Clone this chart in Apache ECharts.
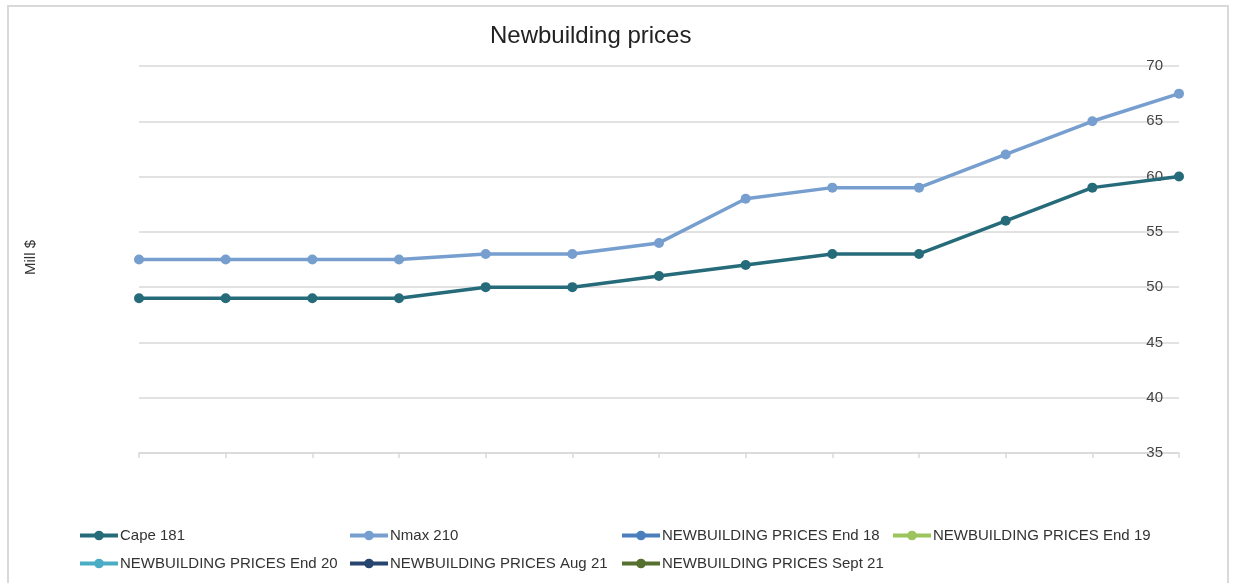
<!DOCTYPE html>
<html>
<head>
<meta charset="utf-8">
<script src="https://cdn.jsdelivr.net/npm/echarts@6/dist/echarts.min.js"></script>
<style>
    html, body { margin: 0; padding: 0; background: #fff; }
    #frame {
        position: absolute;
        left: 7px; top: 5px; width: 1222px; height: 590px;
        border: 2px solid #d9d9d9;
        box-sizing: border-box;
    }
    #chart { position: absolute; left: 0; top: 0; width: 1236px; height: 583px; }
</style>
</head>
<body>
<div id="frame"></div>
<div id="chart"></div>
<script>
// one point per period, no category labels shown on the chart
const periods = ["P1", "P2", "P3", "P4", "P5", "P6", "P7", "P8", "P9", "P10", "P11", "P12", "P13"];
const cape181 = [49, 49, 49, 49, 50, 50, 51, 52, 53, 53, 56, 59, 60];
const nmax210 = [52.5, 52.5, 52.5, 52.5, 53, 53, 54, 58, 59, 59, 62, 65, 67.5];

const seriesNames = [
    "Cape 181",
    "Nmax 210",
    "NEWBUILDING PRICES End 18",
    "NEWBUILDING PRICES End 19",
    "NEWBUILDING PRICES End 20",
    "NEWBUILDING PRICES Aug 21",
    "NEWBUILDING PRICES Sept 21",
];
const seriesColors = ["#266b7a", "#769ecf", "#4a7ebd", "#9bc45c", "#4bacc6", "#27456f", "#567030"];
const seriesValues = [cape181, nmax210, [], [], [], [], []];

const fontFamily = "'Liberation Sans', Arial, sans-serif";

function buildLegends() {
    const cols = [78, 348, 620, 891];
    const rows = [528, 556];
    return seriesNames.map((name, i) => ({
        data: [name],
        left: cols[i < 4 ? i : i - 4],
        top: rows[i < 4 ? 0 : 1],
        padding: 0,
        itemWidth: 38,
        itemHeight: 12,
        itemGap: 0,
        selectedMode: false,
        lineStyle: { width: 4 },
        textStyle: { fontFamily, fontSize: 15, color: "#333", padding: [0, 0, 0, -3] },
    }));
}

function render() {
    const chart = echarts.init(document.getElementById("chart"));
    chart.setOption({
        animation: false,
        title: {
            text: "Newbuilding prices",
            left: 485,
            top: 19,
            textStyle: { fontFamily, fontSize: 24, fontWeight: "normal", color: "#222" },
        },
        legend: buildLegends(),
        graphic: [{
            type: "text",
            left: 23,
            top: 240,
            rotation: Math.PI / 2,
            style: { text: "Mill $", font: "15px " + fontFamily, fill: "#333" },
        }],
        grid: { left: 139, right: 57, top: 66, bottom: 130 },
        xAxis: {
            type: "category",
            data: periods,
            boundaryGap: false,
            axisLine: { lineStyle: { color: "#d9d9d9", width: 1.5 } },
            axisTick: { show: true, length: 5, lineStyle: { color: "#d9d9d9", width: 1.5 } },
            axisLabel: { show: false },
        },
        yAxis: {
            type: "value",
            position: "right",
            min: 35,
            max: 70,
            interval: 5,
            axisLine: { show: false },
            axisTick: { show: false },
            axisLabel: {
                inside: true,
                margin: 16,
                fontFamily,
                fontSize: 15,
                color: "#444",
            },
            splitLine: { lineStyle: { color: "#d9d9d9", width: 1.5 } },
        },
        series: seriesNames.map((name, i) => ({
            name,
            type: "line",
            data: seriesValues[i],
            color: seriesColors[i],
            symbol: "circle",
            symbolSize: 10,
            lineStyle: { width: 3.5 },
            z: 2 + (seriesNames.length - i),
        })),
    });
}

window.addEventListener("load", render);
</script>
</body>
</html>
